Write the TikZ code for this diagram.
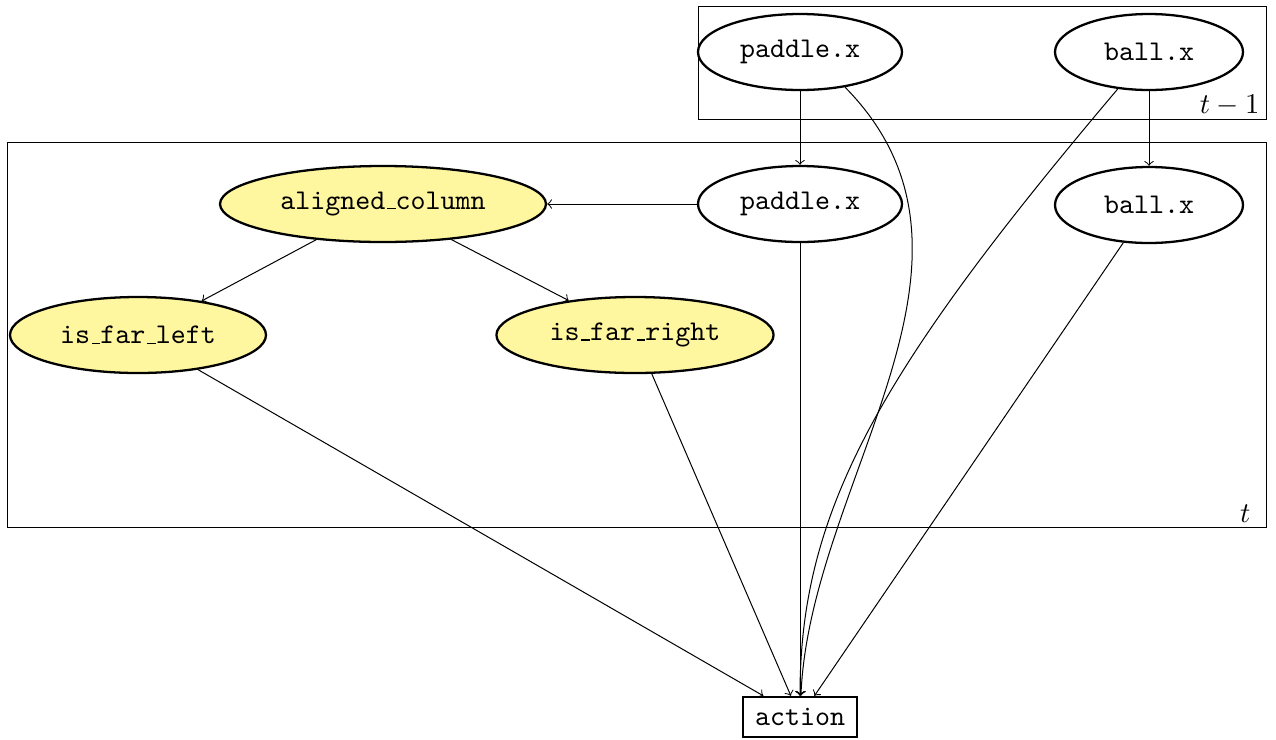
\documentclass[tikz,border=0pt]{standalone}
\usetikzlibrary{shapes.geometric}
\definecolor{hlfill}{RGB}{255,246,160}
% short baseline rule used as the underscore in variable names
\newcommand{\usc}{\leavevmode\kern.06em\vbox{\hrule width.3em}}
\begin{document}
\begin{tikzpicture}[x=0.35pt,y=-0.35pt,
  var/.style={ellipse, draw, thick, inner sep=0pt, minimum width=71.4pt,
    minimum height=26.6pt, font=\ttfamily},
  hvar/.style={var, fill=hlfill},
  actbox/.style={rectangle, draw, thick, inner sep=0pt, minimum width=39.9pt,
    minimum height=14pt, font=\ttfamily},
  edge/.style={->, line width=0.35pt},
  frame/.style={draw, line width=0.35pt},
  slice/.style={anchor=base east, inner sep=0pt}]
\useasboundingbox (0,0) rectangle (1276,739);

% time-slice frames
\draw[frame] (698,6) rectangle (1266,119);
\draw[frame] (7,142) rectangle (1266,527);
\node[slice] (lt1) at (1260,113) {$t-1$};
\node[slice] (lt) at (1251,522) {$t$};

% variables at t-1
\node[var] (p1) at (800,52) {paddle.x};
\node[var, minimum width=65.8pt] (b1) at (1149,52) {ball.x};

% variables at t
\node[var] (p0) at (800,204) {paddle.x};
\node[var, minimum width=65.8pt] (b0) at (1149,205) {ball.x};
\node[hvar, minimum width=114.1pt] (ac) at (383,204) {aligned\usc column};
\node[hvar, minimum width=89.6pt] (ifl) at (138,335) {is\usc far\usc left};
\node[hvar, minimum width=97pt] (ifr) at (635,335) {is\usc far\usc right};

% decision
\node[actbox] (act) at (800,717) {action};

% dependencies
\draw[edge] (p1) -- (p0);
\draw[edge] (b1) -- (b0);
\draw[edge] (p0) -- (ac);
\draw[edge] (ac) -- (ifl);
\draw[edge] (ac) -- (ifr);
\draw[edge] (p0) -- (act);
\draw[edge] (b0) -- (act);
\draw[edge] (ifl) -- (act);
\draw[edge] (ifr) -- (act);
\draw[edge] (p1.-38) .. controls (1015,260) and (810,480) .. (act);
\draw[edge] (b1) .. controls (880,370) and (800,510) .. (act);
\end{tikzpicture}
\end{document}
